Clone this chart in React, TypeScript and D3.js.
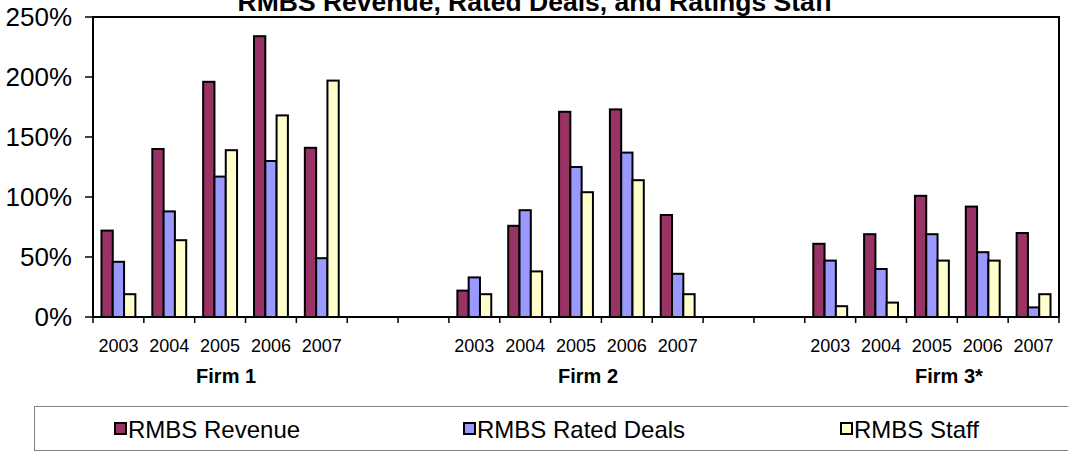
import React from "react";
import * as d3 from "d3";

const years = ["2003", "2004", "2005", "2006", "2007"];
const firms = ["Firm 1", "Firm 2", "Firm 3*"];
const seriesNames = ["RMBS Revenue", "RMBS Rated Deals", "RMBS Staff"];
const seriesColors = ["#993366", "#9999FF", "#FFFFCC"];
const revenue = [
  [72, 140, 196, 234, 141],
  [22, 76, 171, 173, 85],
  [61, 69, 101, 92, 70],
];
const ratedDeals = [
  [46, 88, 117, 130, 49],
  [33, 89, 125, 137, 36],
  [47, 40, 69, 54, 8],
];
const staff = [
  [19, 64, 139, 168, 197],
  [19, 38, 104, 114, 19],
  [9, 12, 47, 47, 19],
];
const yTicks = [0, 50, 100, 150, 200, 250];
const firmLabelShift = [6, 12, 17];

const W = 1068;
const H = 452;
const plotLeft = 93;
const plotRight = 1059;
const plotTop = 17;
const plotBottom = 317;
const slotsPerFirm = 7;
const nSlots = firms.length * slotsPerFirm - 2;
const FONT = "Arial, 'Liberation Sans', Helvetica, sans-serif";

export default function App() {
  const x = d3
    .scaleBand<number>()
    .domain(d3.range(nSlots))
    .range([plotLeft, plotRight])
    .paddingInner(0)
    .paddingOuter(0);
  const slotW = x.bandwidth();
  const barW = slotW / 4.5;
  const inner = d3
    .scaleBand<number>()
    .domain([0, 1, 2])
    .range([(slotW - 3 * barW) / 2, (slotW + 3 * barW) / 2])
    .padding(0);
  const y = d3.scaleLinear().domain([0, 250]).range([plotBottom, plotTop]);

  const allSeries = [revenue, ratedDeals, staff];
  const bars: { key: string; x: number; y: number; h: number; fill: string }[] = [];
  firms.forEach((_, fi) => {
    years.forEach((__, yi) => {
      const slot = fi * slotsPerFirm + yi;
      allSeries.forEach((s, si) => {
        const v = s[fi][yi];
        bars.push({
          key: `${fi}-${yi}-${si}`,
          x: (x(slot) as number) + (inner(si) as number),
          y: y(v),
          h: y(0) - y(v),
          fill: seriesColors[si],
        });
      });
    });
  });

  const boundaries = d3.range(nSlots + 1).map((i) => plotLeft + i * slotW);
  const legendX = [114, 463, 840];

  return (
    <svg
      width={W}
      height={H}
      style={{ position: "fixed", left: 0, top: 0, background: "#fff" }}
      fontFamily={FONT}
    >
      <rect x={0} y={0} width={W} height={H} fill="#fff" />
      {/* title */}
      <text
        x={535}
        y={10.5}
        textAnchor="middle"
        fontSize={26.5}
        fontWeight="bold"
        fill="#000"
      >
        RMBS Revenue, Rated Deals, and Ratings Staff
      </text>

      {/* bars */}
      {bars.map((b) => (
        <rect
          key={b.key}
          x={b.x}
          y={b.y}
          width={barW}
          height={b.h}
          fill={b.fill}
          stroke="#000"
          strokeWidth={2}
        />
      ))}

      {/* frame */}
      <path
        d={`M${plotLeft},${plotBottom}V${plotTop}H${plotRight}V${plotBottom}`}
        fill="none"
        stroke="#000"
        strokeWidth={2}
      />
      <line x1={plotLeft} x2={plotRight} y1={plotBottom} y2={plotBottom} stroke="#000" strokeWidth={2} />

      {/* y ticks */}
      {yTicks.map((t) => (
        <g key={t}>
          <line x1={85} x2={plotLeft} y1={y(t)} y2={y(t)} stroke="#000" strokeWidth={1.5} />
          <text x={72} y={y(t)} dy="0.36em" textAnchor="end" fontSize={26} fill="#000">
            {`${t}%`}
          </text>
        </g>
      ))}

      {/* x ticks */}
      {boundaries.map((bx, i) => (
        <line key={i} x1={bx} x2={bx} y1={plotBottom} y2={plotBottom + 6} stroke="#000" strokeWidth={1.5} />
      ))}

      {/* year labels */}
      {firms.map((f, fi) =>
        years.map((yr, yi) => {
          const slot = fi * slotsPerFirm + yi;
          return (
            <text
              key={`${fi}-${yr}`}
              x={(x(slot) as number) + slotW / 2}
              y={352}
              textAnchor="middle"
              fontSize={18}
              fill="#000"
            >
              {yr}
            </text>
          );
        })
      )}

      {/* firm labels */}
      {firms.map((f, fi) => {
        const c = (x(fi * slotsPerFirm + 2) as number) + slotW / 2 + firmLabelShift[fi];
        return (
          <text key={f} x={c} y={383} textAnchor="middle" fontSize={20} fontWeight="bold" fill="#000">
            {f}
          </text>
        );
      })}

      {/* legend */}
      <rect x={34.5} y={406.5} width={1100} height={44} fill="#fff" stroke="#808080" strokeWidth={1} />
      {seriesNames.map((n, i) => (
        <g key={n}>
          <rect x={legendX[i] + 1} y={423} width={11} height={11} fill={seriesColors[i]} stroke="#000" strokeWidth={2} />
          <text x={legendX[i] + 14} y={438} fontSize={24} fill="#000">
            {n}
          </text>
        </g>
      ))}
    </svg>
  );
}
